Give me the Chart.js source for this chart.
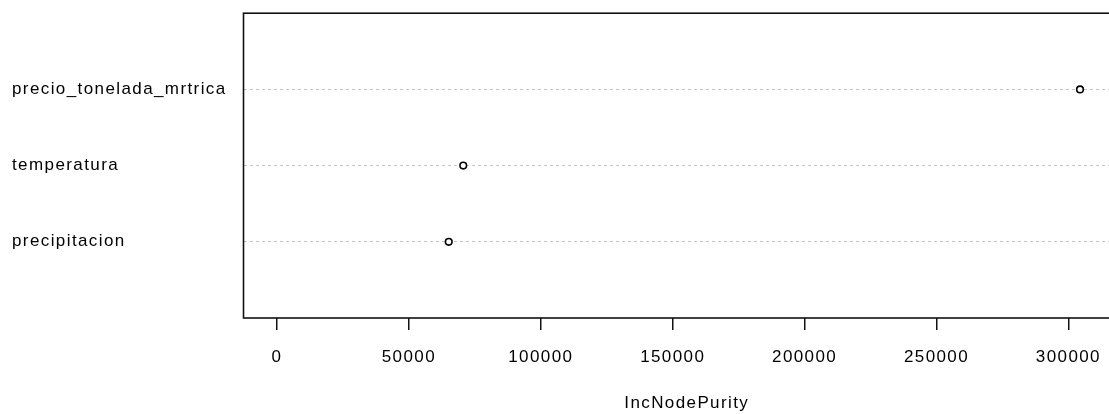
<!DOCTYPE html>
<html>
<head>
<meta charset="utf-8">
<script src="https://cdn.jsdelivr.net/npm/chart.js@4"></script>
<style>
  html, body { margin: 0; padding: 0; background: #fff; overflow: hidden; }
  #wrap { width: 1109px; height: 414px; overflow: hidden; }
</style>
</head>
<body>
<div id="wrap"><canvas id="myChart" width="1140" height="414"></canvas></div>
<script>
// variables, bottom to top (dotchart order)
var variables = ['precipitacion', 'temperatura', 'precio_tonelada_mrtrica'];
var purity = [65100, 70600, 304400];
var xTicks = [0, 50000, 100000, 150000, 200000, 250000, 300000];

var points = variables.map(function (v, i) {
    return { x: purity[i], y: i + 1 };
});

// R-style box round the plot region, plus a bit of letter spacing for the labels
var boxPlugin = {
    id: 'box',
    beforeDraw: function (chart) {
        chart.ctx.letterSpacing = '1.4px';
    },
    afterDraw: function (chart) {
        var a = chart.chartArea, c = chart.ctx;
        c.save();
        c.strokeStyle = '#111';
        c.lineWidth = 1.6;
        c.strokeRect(a.left, a.top, a.right - a.left, a.bottom - a.top);
        c.restore();
    }
};

var labelFont = { family: 'Liberation Sans', size: 17 };

var ctx = document.getElementById('myChart').getContext('2d');
var chart = new Chart(ctx, {
    type: 'scatter',
    data: {
        datasets: [{
            data: points,
            pointRadius: 3.3,
            pointHoverRadius: 3.3,
            borderWidth: 1.6,
            borderColor: '#000',
            backgroundColor: '#fff'
        }]
    },
    options: {
        responsive: false,
        animation: false,
        layout: { padding: { left: 12, top: 13, right: 10, bottom: 0 } },
        plugins: { legend: { display: false }, tooltip: { enabled: false } },
        scales: {
            x: {
                type: 'linear',
                min: -12700,
                max: 323350,
                afterBuildTicks: function (s) { s.ticks = xTicks.map(function (v) { return { value: v }; }); },
                afterFit: function (s) { s.height = 96; },
                ticks: {
                    color: '#000',
                    padding: 17,
                    font: labelFont,
                    callback: function (v) { return String(v); }
                },
                grid: { drawOnChartArea: false, drawTicks: true, tickLength: 12, tickColor: '#111', lineWidth: 1.5 },
                border: { display: false },
                title: {
                    display: true,
                    text: 'IncNodePurity',
                    color: '#000',
                    font: labelFont,
                    padding: { top: 0, bottom: 0 }
                }
            },
            y: {
                type: 'linear',
                min: 0,
                max: 4,
                afterBuildTicks: function (s) { s.ticks = variables.map(function (v, i) { return { value: i + 1 }; }); },
                afterFit: function (s) { s.width = 231.5; },
                ticks: {
                    color: '#000',
                    crossAlign: 'far',
                    font: labelFont,
                    callback: function (v) { return variables[v - 1]; }
                },
                grid: { color: '#c4c4c4', lineWidth: 1, drawTicks: false },
                border: { display: false, dash: [3, 3] }
            }
        }
    },
    plugins: [boxPlugin]
});
</script>
</body>
</html>
